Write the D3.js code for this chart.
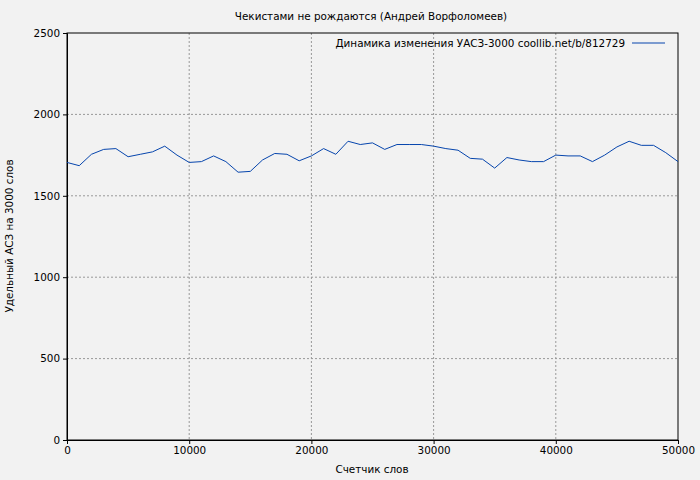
<!DOCTYPE html>
<html><head><meta charset="utf-8">
<script src="https://cdn.jsdelivr.net/npm/d3@7"></script>
<style>body{margin:0;background:#f2f2f2}text{font-family:"DejaVu Sans",sans-serif;font-size:10.4px;fill:#000}</style>
</head><body><div id="chart"></div>
<script>
// Data: words counter vs specific ACS
let words = d3.range(0, 50001, 1000);
let values = [1705,1685,1755,1785,1790,1740,1755,1770,1805,1750,1705,1710,1745,1710,1645,1650,1720,1760,1755,1715,
  1745,1790,1755,1835,1815,1825,1785,1815,1815,1815,1805,1790,1780,1730,1725,1670,1735,1720,1710,1710,
  1750,1745,1745,1710,1750,1800,1835,1810,1810,1765,1710];
let xTicks = [0, 10000, 20000, 30000, 40000, 50000];
let yTicks = [0, 500, 1000, 1500, 2000, 2500];

let margin = { top: 33, right: 22, bottom: 40, left: 67 };
let width = 700 - margin.left - margin.right,
  height = 480 - margin.top - margin.bottom;

let svg = d3.select('#chart').append('svg').attr('width', 700).attr('height', 480);
svg.append('rect').attr('width', 700).attr('height', 480).attr('fill', '#f2f2f2');
let g = svg.append('g').attr('transform', `translate(${margin.left},${margin.top})`);

let x = d3.scaleLinear().domain([0, 50000]).range([0, width]);
let y = d3.scaleLinear().domain([0, 2500]).range([height, 0]);

// Grid
g.selectAll('.vg').data(xTicks.slice(1, -1)).enter().append('line')
  .attr('x1', d => x(d)).attr('x2', d => x(d)).attr('y1', 0).attr('y2', height)
  .attr('stroke', '#999').attr('stroke-dasharray', '2,2');
g.selectAll('.hg').data(yTicks.slice(1, -1)).enter().append('line')
  .attr('y1', d => y(d)).attr('y2', d => y(d)).attr('x1', 0).attr('x2', width)
  .attr('stroke', '#999').attr('stroke-dasharray', '2,2');

// Axes
let xAxis = g.append('g').attr('transform', `translate(0,${height})`)
  .call(d3.axisBottom(x).tickValues(xTicks).tickSize(4).tickFormat(d3.format('d')));
let yAxis = g.append('g').call(d3.axisLeft(y).tickValues(yTicks).tickSize(4).tickFormat(d3.format('d')));
[xAxis, yAxis].forEach(a => {
  a.selectAll('text').style('font-size', '10.4px').style('font-family', 'DejaVu Sans');
  a.select('.domain').attr('stroke', '#000');
});
g.append('rect').attr('width', width).attr('height', height)
  .attr('fill', 'none').attr('stroke', '#000');

// Line
let line = d3.line().x((d, i) => x(words[i])).y(d => y(d));
g.append('path').datum(values).attr('d', line)
  .attr('fill', 'none').attr('stroke', '#0645ad').attr('stroke-width', 1);

// Labels
svg.append('text').attr('x', 371).attr('y', 20).attr('text-anchor', 'middle')
  .text('Чекистами не рождаются (Андрей Ворфоломеев)');
svg.append('text').attr('x', 372).attr('y', 473).attr('text-anchor', 'middle').text('Счетчик слов');
svg.append('text').attr('transform', 'translate(13,236) rotate(-90)').attr('text-anchor', 'middle')
  .text('Удельный АСЗ на 3000 слов');

// Legend
svg.append('text').attr('x', 625).attr('y', 47).attr('text-anchor', 'end')
  .text('Динамика изменения УАСЗ-3000 coollib.net/b/812729');
svg.append('line').attr('x1', 632).attr('x2', 665).attr('y1', 43).attr('y2', 43)
  .attr('stroke', '#0645ad');
</script></body></html>
